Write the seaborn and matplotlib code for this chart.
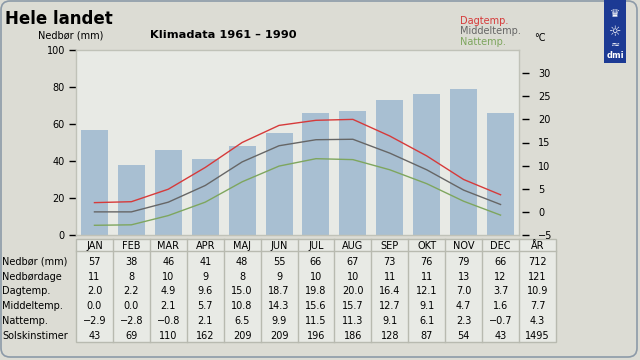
import matplotlib
matplotlib.use("Agg")
import matplotlib.pyplot as plt
import seaborn as sns
from matplotlib.patches import Rectangle, FancyBboxPatch

# data
months = ["JAN", "FEB", "MAR", "APR", "MAJ", "JUN", "JUL", "AUG", "SEP", "OKT", "NOV", "DEC"]
nedbor = [57, 38, 46, 41, 48, 55, 66, 67, 73, 76, 79, 66]
nedbordage = [11, 8, 10, 9, 8, 9, 10, 10, 11, 11, 13, 12]
dagtemp = [2.0, 2.2, 4.9, 9.6, 15.0, 18.7, 19.8, 20.0, 16.4, 12.1, 7.0, 3.7]
middeltemp = [0.0, 0.0, 2.1, 5.7, 10.8, 14.3, 15.6, 15.7, 12.7, 9.1, 4.7, 1.6]
nattemp = [-2.9, -2.8, -0.8, 2.1, 6.5, 9.9, 11.5, 11.3, 9.1, 6.1, 2.3, -0.7]
solskin = [43, 69, 110, 162, 209, 209, 196, 186, 128, 87, 54, 43]
year_label = "ÅR"
year_values = ["712", "121", "10.9", "7.7", "4.3", "1495"]
row_labels = ["Nedbør (mm)", "Nedbørdage", "Dagtemp.", "Middeltemp.", "Nattemp.", "Solskinstimer"]

W, H = 640, 360
FIG_BG = "#dcdcd4"
PLOT_BG = "#e8eae5"
BAR_C = "#a8bfd2"
RED = "#d63a3a"
GREY = "#666666"
GREEN = "#7ea65e"

plt.rcParams.update({
    "font.family": ["DejaVu Sans"],
    "font.size": 7,
    "xtick.major.size": 5,
    "ytick.major.size": 5,
})


def fx(px):
    return px / W


def fy(py):
    return 1 - py / H


def fmt1(v):
    # one decimal, with a real minus sign like the original table
    return f"{v:.1f}".replace("-", "\u2212")


fig = plt.figure(figsize=(6.4, 3.6), dpi=100, facecolor=FIG_BG)

# overlay in pixel coordinates for frame, logo and table
over = fig.add_axes([0, 0, 1, 1], zorder=0)
over.set_xlim(0, W)
over.set_ylim(H, 0)
over.axis("off")
over.patch.set_visible(False)

over.add_patch(FancyBboxPatch((1, 1), W - 4, H - 4, boxstyle="round,pad=0,rounding_size=9",
                              facecolor="none", edgecolor="#8c9aa8", lw=1.2))

# dmi logo
over.add_patch(Rectangle((604, 0), 22, 63, facecolor="#1c3a94", edgecolor="none"))
over.text(615, 14, "♛", color="white", ha="center", va="center", fontsize=8)
over.text(615, 32, "☼", color="white", ha="center", va="center", fontsize=10)
over.text(615, 45, "≈", color="white", ha="center", va="center", fontsize=8)
over.text(615, 56, "dmi", color="white", ha="center", va="center", fontsize=6, weight="bold")

# main chart
L, R, T, B = 76, 519, 50, 235
ax = fig.add_axes([fx(L), fy(B), fx(R - L), (B - T) / H], zorder=2)
ax.set_facecolor(PLOT_BG)
sns.barplot(x=months, y=nedbor, color=BAR_C, saturation=1, width=0.73, ax=ax, zorder=1)
ax.set_xlim(-0.5, 11.5)
ax.set_ylim(0, 100)
ax.set_yticks(range(0, 101, 20))
ax.set_xticks([])
ax.set_xlabel("")
ax.set_ylabel("")
for s in ax.spines.values():
    s.set_color("#c0c2b8")
    s.set_linewidth(1)
ax.tick_params(axis="y", colors="black", labelsize=7, width=1, pad=3)

ax2 = ax.twinx()
for vals, c in [(dagtemp, RED), (middeltemp, GREY), (nattemp, GREEN)]:
    sns.lineplot(x=list(range(12)), y=vals, color=c, lw=1, ax=ax2)
ax2.set_ylim(-5, 35)
ax2.set_yticks(range(-5, 31, 5))
for s in ax2.spines.values():
    s.set_visible(False)
ax2.spines["right"].set_position(("outward", 2))
ax2.tick_params(axis="y", labelsize=7, width=1, pad=7)
ax2.set_ylabel("")

# titles and labels
fig.text(fx(5), fy(19), "Hele landet", fontsize=12, weight="bold", va="center")
fig.text(fx(150), fy(35), "Klimadata 1961 – 1990", fontsize=8.2, weight="bold", va="center")
fig.text(fx(71), fy(35), "Nedbør (mm)", fontsize=7, ha="center", va="center")
fig.text(fx(460), fy(21), "Dagtemp.", color=RED, fontsize=7, va="center")
fig.text(fx(460), fy(31), "Middeltemp.", color=GREY, fontsize=7, va="center")
fig.text(fx(460), fy(42), "Nattemp.", color=GREEN, fontsize=7, va="center")
fig.text(fx(534), fy(38), "°C", fontsize=7, va="center")

# table below the chart
cw = (R - L) / 12
t_top, h_line, t_bot = 238.5, 251, 342
ncols = len(months) + 1
over.add_patch(Rectangle((L, t_top), cw * ncols, t_bot - t_top, facecolor=PLOT_BG,
                         edgecolor="#b8bab0", lw=1))
over.plot([L, L + cw * ncols], [h_line, h_line], color="#b8bab0", lw=1)
for i in range(1, ncols):
    over.plot([L + i * cw] * 2, [t_top, t_bot], color="#b8bab0", lw=1)

header = months + [year_label]
for i, m in enumerate(header):
    over.text(L + (i + 0.5) * cw, 246, m, ha="center", va="center", fontsize=7)

rows = [
    [str(v) for v in nedbor],
    [str(v) for v in nedbordage],
    [fmt1(v) for v in dagtemp],
    [fmt1(v) for v in middeltemp],
    [fmt1(v) for v in nattemp],
    [str(v) for v in solskin],
]
row_y = [262, 277, 291.5, 306, 321, 336]
for r, (lab, vals) in enumerate(zip(row_labels, rows)):
    y = row_y[r]
    over.text(2, y, lab, ha="left", va="center", fontsize=7)
    for i, v in enumerate(vals + [year_values[r]]):
        over.text(L + (i + 0.5) * cw, y, v, ha="center", va="center", fontsize=7)

plt.savefig("out.png", dpi=100, facecolor=FIG_BG)
plt.close()
